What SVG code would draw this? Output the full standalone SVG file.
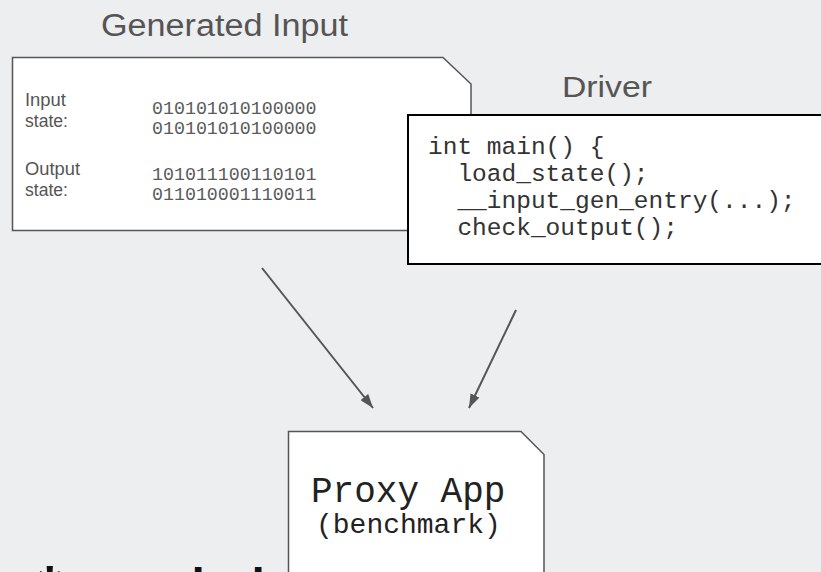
<svg xmlns="http://www.w3.org/2000/svg" width="821" height="572" viewBox="0 0 821 572">
  <style>
    .title { font-family: "Liberation Sans", Arial, sans-serif; fill: #555; }
    .label { font-family: "Liberation Sans", Arial, sans-serif; font-size: 17.5px; fill: #555; }
    .bits { font-family: "Liberation Mono", "DejaVu Sans Mono", monospace; font-size: 18.3px; fill: #5a5a5a; }
    .code { font-family: "Liberation Mono", "DejaVu Sans Mono", monospace; font-size: 24.5px; fill: #333; }
    .app { font-family: "Liberation Mono", "DejaVu Sans Mono", monospace; fill: #222; }
    .box { fill: #fff; stroke: #555; stroke-width: 1.5; }
    .conn { stroke: #555; stroke-width: 2; fill: none; }
    .note { font-family: "Liberation Sans", Arial, sans-serif; font-weight: bold; fill: #111; }
  </style>
  <defs>
    <marker id="arrow" markerUnits="userSpaceOnUse" markerWidth="14" markerHeight="10" refX="14" refY="5" orient="auto">
      <path d="M0,0 L14,5 L0,10 Z" fill="#555"/>
    </marker>
  </defs>

  <rect width="821" height="572" fill="#edeef0"/>

  <!-- Generated input card -->
  <g id="generated-input">
    <text class="title" x="101" y="36" font-size="31" textLength="247" lengthAdjust="spacingAndGlyphs">Generated Input</text>
    <path class="box" d="M12.5,57.5 H443 L471,84 V230.5 H12.5 Z"/>
    <text class="label" x="25" y="106" textLength="41" lengthAdjust="spacingAndGlyphs">Input</text>
    <text class="label" x="25" y="127" textLength="43" lengthAdjust="spacingAndGlyphs">state:</text>
    <text class="label" x="25" y="175" textLength="55" lengthAdjust="spacingAndGlyphs">Output</text>
    <text class="label" x="25" y="196" textLength="43" lengthAdjust="spacingAndGlyphs">state:</text>
    <text class="bits" x="152" y="114">010101010100000</text>
    <text class="bits" x="152" y="134">010101010100000</text>
    <text class="bits" x="152" y="180">101011100110101</text>
    <text class="bits" x="152" y="200">011010001110011</text>
  </g>

  <!-- Driver source card -->
  <g id="driver">
    <text class="title" x="562" y="97" font-size="30" textLength="90" lengthAdjust="spacingAndGlyphs">Driver</text>
    <rect x="408" y="115" width="430" height="149" fill="#fff" stroke="#000" stroke-width="2"/>
    <text class="code" x="428" y="154">int main() {</text>
    <text class="code" x="428" y="181" xml:space="preserve">  load_state();</text>
    <text class="code" x="428" y="208" xml:space="preserve">  __input_gen_entry(...);</text>
    <text class="code" x="428" y="235" xml:space="preserve">  check_output();</text>
  </g>

  <!-- Proxy application card -->
  <g id="proxy-app">
    <path class="box" d="M288.5,600 V431.5 H521 L544,454.5 V600"/>
    <text class="app" x="311" y="502" font-size="36">Proxy App</text>
    <text class="app" x="316" y="533" font-size="28">(benchmark)</text>
  </g>

  <!-- Footnote running off the bottom edge -->
  <g id="footnote">
    <text class="note" x="38" y="607" font-size="60">*</text>
    <text class="note" y="602" font-size="48"><tspan x="191.5">l</tspan><tspan x="251.5">l</tspan></text>
  </g>

  <g id="connectors">
    <line class="conn" x1="262" y1="268" x2="373" y2="408" marker-end="url(#arrow)"/>
    <line class="conn" x1="516" y1="310" x2="469" y2="408" marker-end="url(#arrow)"/>
  </g>
</svg>
